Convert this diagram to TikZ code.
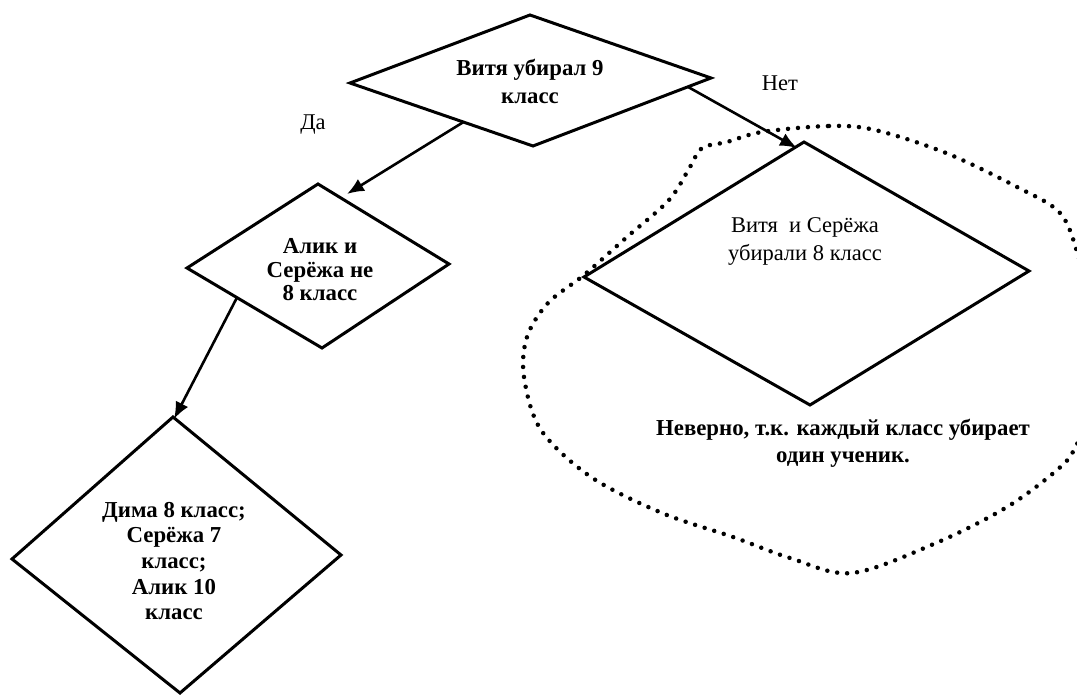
\documentclass[tikz,border=0pt]{standalone}
\usepackage{fontspec}
\setmainfont{Liberation Serif}
\usetikzlibrary{arrows.meta,calc}
\begin{document}
\begin{tikzpicture}[x=1pt,y=-1pt,
  shapeline/.style={line width=3pt, line join=miter},
  conn/.style={line width=2.6pt, -{Latex[length=17pt,width=14pt]}},
  btxt/.style={align=center, inner sep=0pt, font=\fontsize{22.8}{28}\selectfont\bfseries},
  rtxt/.style={align=center, inner sep=0pt, font=\fontsize{22.5}{28}\selectfont},
  dotline/.style={line width=4.5pt, line cap=round, dash pattern=on 0pt off 10pt}]
\useasboundingbox (0,0) rectangle (1077,695);
% diamond vertices
\coordinate (aT) at (530,15);  \coordinate (aR) at (711,78);
\coordinate (aB) at (533,146); \coordinate (aL) at (350,83);
\coordinate (bT) at (318,184); \coordinate (bR) at (449,264);
\coordinate (bB) at (322,348); \coordinate (bL) at (187,268);
\coordinate (cT) at (173,417); \coordinate (cR) at (341,555);
\coordinate (cB) at (180,693); \coordinate (cL) at (12,559);
\coordinate (dT) at (804,142); \coordinate (dR) at (1029,271);
\coordinate (dB) at (810,405); \coordinate (dL) at (584,277);
\draw[shapeline] (aT) -- (aR) -- (aB) -- (aL) -- cycle;
\draw[shapeline] (bT) -- (bR) -- (bB) -- (bL) -- cycle;
\draw[shapeline] (cT) -- (cR) -- (cB) -- (cL) -- cycle;
\draw[shapeline] (dT) -- (dR) -- (dB) -- (dL) -- cycle;
% texts
\node[btxt] (ta) at (530,81) {Витя убирал 9\\класс};
\node[btxt, font=\fontsize{22.8}{23.5}\selectfont\bfseries] (tb) at (320,270) {Алик и\\Серёжа не\\8 класс};
\node[btxt, font=\fontsize{22.8}{25.7}\selectfont\bfseries] (tc) at (174,561) {Дима 8 класс;\\Серёжа 7\\класс;\\Алик 10\\класс};
\node[rtxt] (td) at (805,241) {Витя\ \ и Серёжа\\убирали 8 класс};
\node[btxt, font=\fontsize{22.8}{27}\selectfont\bfseries] (te) at (843,443.5) {Неверно, т.к. каждый класс убирает\\один ученик.};
\node[rtxt] (da) at (313,125) {Да};
\node[rtxt] (net) at (780,83) {Нет};
% connectors
\coordinate (s1) at ($(aL)!0.62!(aB)$);
\coordinate (e1) at (347,194);
\draw[conn] (s1) -- (e1);
\coordinate (s2) at ($(aR)!0.13!(aB)$);
\coordinate (e2) at (797,148);
\draw[conn] (s2) -- (e2);
\coordinate (s3) at ($(bL)!0.37!(bB)$);
\coordinate (e3) at (174,419);
\draw[conn] (s3) -- (e3);
% dotted outline
\draw[dotline] plot[smooth cycle, tension=0.55] coordinates {
  (762,132) (829,126) (875,130) (946,153) (1017,187) (1060,213) (1078,255)
  (1094,320) (1093,400) (1075,448) (1057,470) (1007,507) (936,543) (852,573)
  (790,558) (733,537) (662,513) (591,477) (541,430) (524,377) (527,337)
  (548,303) (584,275) (627,237) (669,200) (690,167) (702,148) (727,142)};
\end{tikzpicture}
\end{document}
